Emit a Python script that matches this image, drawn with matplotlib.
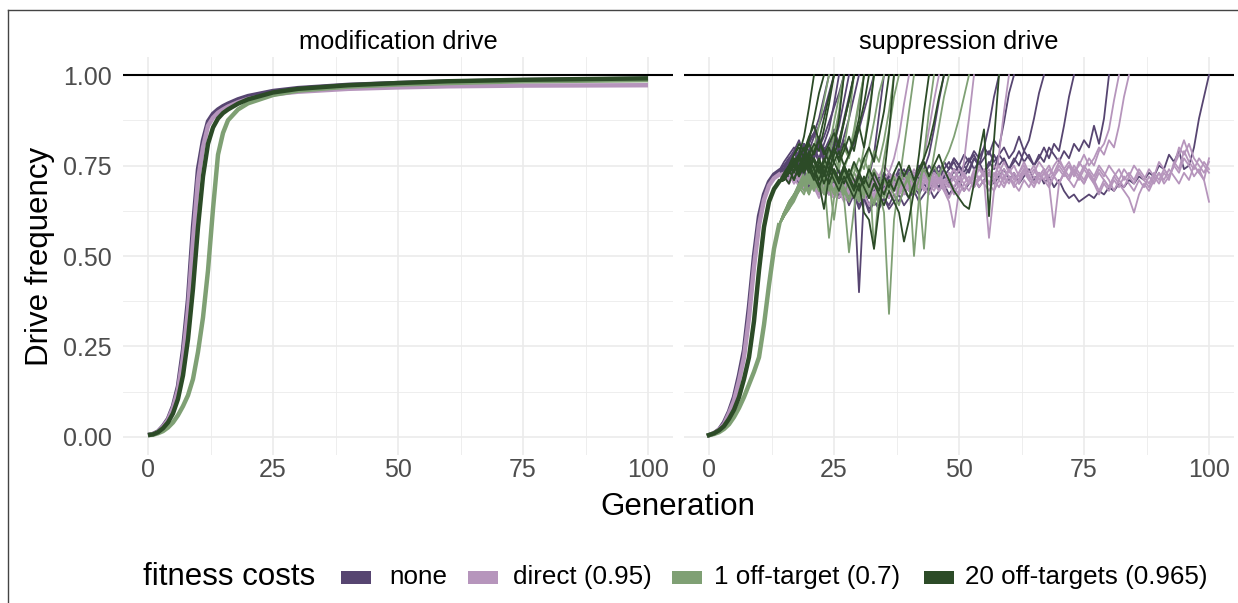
import numpy as np
import matplotlib
matplotlib.use('Agg')
import matplotlib.pyplot as plt
from matplotlib.lines import Line2D
from matplotlib.patches import Rectangle

plt.rcParams['font.family'] = ['Liberation Sans', 'DejaVu Sans']

# ---- data ----
groups = ['none', 'direct (0.95)', '1 off-target (0.7)', '20 off-targets (0.965)']
colours = ['#574571', '#B695BC', '#7FA074', '#2C4B27']
panel_titles = ['modification drive', 'suppression drive']
x_ticks = [0, 25, 50, 75, 100]
y_ticks = [0, 0.25, 0.5, 0.75, 1.0]

# modification drive: one mean curve per group
gen_mod = [0, 1, 2, 3, 4, 5, 6, 7, 8, 9, 10, 11, 12, 13, 14, 15, 16, 18, 20, 25, 30, 40, 50, 60, 75, 100]
mod_none = [.005, .008, .015, .03, .05, .085, .14, .24, .38, .58, .74, .82, .872, .893, .905, .914, .921, .933, .942, .956, .964, .973, .978, .982, .986, .99]
mod_direct = [.005, .008, .014, .028, .047, .08, .13, .22, .35, .54, .71, .80, .86, .882, .896, .905, .913, .925, .934, .947, .954, .962, .966, .969, .971, .972]
mod_off1 = [.005, .006, .010, .016, .026, .04, .06, .085, .115, .16, .235, .33, .46, .63, .78, .84, .875, .905, .922, .945, .957, .968, .974, .978, .983, .986]
mod_off20 = [.005, .007, .013, .024, .04, .065, .105, .17, .27, .41, .58, .72, .81, .855, .88, .895, .905, .921, .933, .952, .962, .972, .978, .983, .987, .991]

# suppression drive: shared rise (gen 0-14, percent), then replicate tails from gen 15
rise_none = [0.5, 1, 2, 4, 7, 11, 17, 24, 36, 50, 61, 67, 70.5, 72.5, 73.5]
rise_direct = [0.5, 1, 2, 3.5, 6.5, 10, 15.5, 22, 33, 47, 58.5, 65.5, 69.5, 71.5, 72.5]
rise_off1 = [0.5, 0.8, 1.3, 2.2, 3.5, 5.5, 8, 11, 14.5, 18, 22, 31, 42, 52, 58.5]
rise_off20 = [0.5, 1, 1.8, 3, 5, 7.5, 11, 16, 22, 32, 46, 58, 65, 68.5, 70.5]

tails_none = [
    [75, 77, 76, 79, 78, 82, 84, 88, 94, 100],
    [76, 78, 80, 77, 81, 79, 83, 86, 90, 95, 100],
    [74, 76, 73, 77, 79, 75, 80, 77, 81, 85, 92, 100],
    [75, 77, 79, 82, 78, 81, 84, 80, 83, 87, 91, 95, 100],
    [75, 73, 77, 74, 78, 75, 79, 76, 80, 77, 81, 86, 93, 100],
    [74, 77, 75, 78, 81, 77, 80, 83, 79, 82, 85, 81, 88, 94, 100],
    [74, 76, 79, 75, 78, 81, 77, 80, 76, 79, 82, 78, 83, 88, 94, 100],
    [75, 73, 76, 79, 76, 74, 78, 81, 77, 80, 83, 79, 82, 78, 81, 85, 90, 95, 100],
    [74, 72, 75, 71, 74, 70, 73, 69, 72, 68, 71, 67, 70, 66, 69, 40, 67, 72, 78, 89, 100],
    [73, 75, 72, 74, 70, 73, 71, 68, 72, 69, 71, 67, 70, 66, 69, 65, 68, 64, 67, 65,
     68, 66, 69, 67, 70, 68, 72, 70, 74, 78, 85, 93, 100],
    [74, 72, 73, 70, 72, 69, 71, 68, 70, 67, 69, 66, 68, 64, 67, 63, 66, 62, 65, 63,
     66, 64, 67, 65, 68, 66, 69, 67, 70, 68, 71, 69, 72, 70, 74, 71, 75, 73, 77, 75,
     80, 86, 94, 100],
    [73, 75, 71, 74, 77, 72, 75, 70, 73, 76, 71, 74, 69, 72, 70, 73, 68, 71, 69, 72,
     70, 73, 71, 74, 72, 70, 73, 71, 74, 72, 75, 73, 76, 74, 77, 75, 78, 76, 79, 77,
     80, 78, 82, 80, 87, 95, 100],
    [74, 76, 72, 75, 73, 70, 74, 71, 73, 69, 72, 70, 67, 70, 68, 71, 69, 66, 69, 71,
     68, 72, 70, 73, 71, 74, 72, 75, 73, 71, 74, 72, 76, 74, 77, 75, 73, 76, 78, 75,
     77, 79, 76, 78, 80, 77, 79, 83, 79, 82, 88, 95, 100],
    [73, 75, 72, 74, 71, 73, 70, 72, 68, 71, 69, 67, 70, 68, 66, 69, 67, 70, 68, 71,
     69, 72, 70, 68, 71, 73, 70, 72, 74, 71, 73, 75, 72, 74, 76, 73, 75, 77, 74, 76,
     73, 75, 78, 75, 77, 74, 76, 79, 76, 78, 75, 77, 80, 77, 81, 79, 86, 94, 100],
    [74, 72, 75, 73, 70, 73, 71, 69, 72, 70, 68, 71, 69, 67, 70, 68, 71, 69, 72, 70,
     73, 71, 69, 72, 74, 71, 73, 70, 72, 75, 73, 71, 74, 76, 73, 75, 72, 74, 77, 75,
     73, 76, 74, 78, 76, 74, 77, 75, 79, 77, 75, 78, 76, 80, 78, 76, 79, 77, 81, 79,
     82, 80, 86, 81, 88, 100],
    [74, 72, 73, 70, 72, 69, 71, 68, 70, 67, 69, 66, 68, 65, 67, 64, 66, 63, 65, 64,
     66, 63, 65, 67, 64, 66, 68, 65, 67, 69, 66, 68, 70, 67, 69, 71, 68, 70, 72, 69,
     71, 73, 70, 72, 74, 71, 73, 70, 72, 74, 71, 73, 70, 72, 69, 71, 68, 66, 67, 65,
     66, 67, 66, 68, 67, 69, 68, 70, 69, 71, 70, 72, 71, 73, 72, 75, 74, 78, 76, 79,
     74, 75, 80, 88, 94, 100],
]

tails_direct = [
    [72, 73, 71, 74, 70, 72, 69, 71, 68, 70, 67, 69, 71, 68, 70, 72, 69, 71, 74, 72,
     75, 73, 77, 83, 92, 100],
    [73, 71, 74, 72, 69, 72, 70, 67, 70, 68, 66, 69, 67, 65, 68, 66, 69, 67, 70, 68,
     71, 69, 72, 70, 73, 71, 74, 72, 77, 85, 93, 100],
    [72, 70, 73, 71, 68, 71, 69, 66, 69, 67, 70, 68, 65, 68, 66, 69, 67, 64, 67, 65,
     68, 66, 69, 67, 70, 68, 71, 69, 72, 70, 73, 71, 68, 65, 58, 68, 76, 88, 100],
    [71, 73, 70, 72, 69, 71, 68, 70, 67, 69, 66, 68, 70, 67, 69, 71, 68, 70, 66, 69,
     71, 68, 70, 72, 69, 71, 73, 70, 72, 69, 71, 73, 70, 72, 74, 71, 73, 70, 72, 69,
     71, 55, 68, 78, 90, 100],
    [72, 70, 73, 71, 69, 72, 70, 68, 71, 69, 67, 70, 68, 71, 69, 67, 70, 68, 66, 69,
     71, 68, 70, 72, 69, 71, 73, 70, 72, 69, 71, 68, 70, 73, 71, 69, 72, 70, 74, 71,
     73, 70, 72, 75, 72, 74, 71, 73, 76, 73, 75, 72, 74, 70, 58, 70, 73, 75, 72, 76,
     74, 77, 75, 79, 81, 85, 93, 100],
    [73, 71, 74, 72, 70, 73, 71, 69, 72, 70, 68, 71, 69, 72, 70, 68, 71, 69, 72, 70,
     68, 71, 73, 70, 72, 69, 71, 68, 70, 73, 70, 72, 69, 71, 74, 71, 73, 70, 72, 75,
     72, 74, 71, 73, 76, 73, 75, 72, 74, 71, 73, 76, 74, 72, 75, 77, 74, 76, 73, 75,
     78, 75, 77, 80, 78, 82, 80, 86, 94, 100],
    [72, 70, 73, 71, 68, 71, 69, 67, 70, 68, 66, 69, 67, 70, 68, 65, 68, 66, 69, 67,
     70, 68, 66, 69, 67, 70, 68, 71, 69, 67, 70, 68, 71, 69, 72, 70, 68, 71, 69, 72,
     70, 73, 71, 69, 72, 70, 73, 71, 74, 72, 70, 73, 71, 74, 72, 70, 73, 71, 69, 72,
     70, 73, 71, 68, 71, 69, 72, 70, 68, 66, 62, 67, 70, 68, 71, 73, 70, 72, 75, 73,
     77, 75, 72, 74, 71, 65],
    [73, 71, 74, 72, 70, 73, 71, 74, 72, 69, 72, 70, 67, 70, 68, 71, 69, 67, 70, 68,
     71, 69, 72, 70, 67, 70, 68, 71, 73, 70, 68, 71, 69, 66, 69, 67, 70, 72, 69, 71,
     73, 70, 68, 71, 69, 72, 70, 73, 75, 72, 74, 71, 73, 70, 72, 75, 73, 71, 74, 72,
     70, 73, 71, 74, 72, 75, 73, 71, 74, 72, 75, 73, 71, 74, 72, 76, 74, 72, 75, 80,
     78, 81, 77, 75, 73, 76],
    [71, 73, 70, 72, 69, 71, 73, 70, 68, 71, 69, 72, 70, 68, 71, 73, 70, 68, 71, 69,
     67, 70, 68, 71, 69, 72, 70, 68, 71, 69, 72, 70, 73, 71, 69, 72, 70, 68, 71, 74,
     72, 70, 73, 71, 74, 72, 70, 68, 71, 69, 72, 70, 73, 75, 72, 70, 73, 71, 74, 72,
     75, 73, 70, 67, 70, 68, 71, 69, 72, 70, 68, 71, 69, 72, 70, 73, 71, 74, 72, 70,
     73, 71, 75, 73, 71, 77],
    [72, 74, 71, 73, 70, 72, 69, 71, 74, 71, 69, 71, 68, 70, 73, 71, 68, 70, 72, 69,
     71, 73, 70, 68, 71, 69, 72, 70, 73, 71, 69, 72, 70, 73, 71, 74, 72, 70, 73, 71,
     74, 72, 75, 73, 71, 74, 72, 70, 73, 71, 69, 72, 74, 71, 73, 76, 74, 72, 75, 73,
     71, 74, 72, 75, 73, 71, 68, 71, 69, 72, 70, 73, 71, 69, 72, 70, 73, 71, 76, 74,
     79, 76, 74, 77, 75, 73],
    [73, 71, 72, 69, 71, 68, 70, 72, 69, 71, 68, 66, 69, 67, 70, 68, 66, 69, 67, 70,
     68, 71, 69, 67, 70, 72, 69, 71, 68, 70, 73, 71, 68, 70, 67, 70, 68, 71, 69, 72,
     70, 68, 71, 73, 70, 72, 69, 71, 74, 72, 70, 73, 71, 69, 72, 74, 72, 75, 73, 71,
     74, 72, 70, 73, 71, 69, 72, 74, 71, 73, 71, 74, 72, 70, 73, 71, 74, 72, 75, 78,
     82, 78, 75, 73, 76, 74],
]

tails_off1 = [
    [61, 64, 67, 70, 73, 76, 80, 86, 93, 100],
    [62, 65, 67, 69, 72, 70, 74, 71, 76, 80, 87, 94, 100],
    [61, 64, 67, 69, 72, 70, 74, 77, 73, 78, 83, 90, 100],
    [61, 64, 66, 69, 67, 71, 68, 72, 70, 74, 71, 76, 80, 88, 100],
    [62, 65, 67, 69, 71, 74, 71, 75, 72, 76, 73, 70, 74, 78, 85, 93, 100],
    [62, 65, 67, 70, 68, 72, 75, 71, 76, 73, 78, 74, 80, 77, 84, 92, 100],
    [62, 64, 66, 68, 70, 67, 71, 68, 72, 69, 73, 70, 66, 51, 63, 72, 80, 90, 100],
    [61, 63, 66, 68, 70, 72, 69, 73, 70, 74, 71, 68, 72, 69, 73, 77, 74, 80, 87, 95, 100],
    [61, 63, 66, 68, 70, 73, 69, 72, 68, 71, 60, 70, 74, 71, 75, 72, 77, 73, 79, 76,
     82, 90, 100],
    [61, 64, 66, 68, 70, 73, 70, 74, 71, 68, 72, 69, 73, 70, 67, 71, 66, 75, 52, 68,
     77, 85, 94, 100],
    [62, 64, 67, 69, 71, 68, 72, 69, 73, 70, 67, 71, 68, 65, 69, 66, 70, 67, 64, 68,
     62, 34, 60, 70, 80, 90, 100],
    [62, 64, 66, 69, 71, 68, 72, 70, 67, 71, 68, 72, 69, 66, 70, 67, 71, 68, 65, 69,
     66, 70, 67, 64, 69, 72, 50, 66, 78, 90, 100],
    [61, 63, 65, 68, 70, 72, 69, 73, 70, 74, 71, 68, 72, 69, 73, 70, 67, 71, 74, 70,
     67, 71, 68, 72, 69, 73, 70, 68, 52, 70, 78, 86, 94, 100],
    [61, 64, 66, 68, 70, 67, 71, 68, 72, 55, 66, 70, 67, 71, 68, 65, 69, 66, 70, 67,
     71, 68, 72, 69, 73, 70, 67, 71, 74, 71, 75, 72, 76, 79, 83, 88, 94, 100],
]

tails_off20 = [
    [72, 73, 75, 78, 83, 91, 100],
    [72, 74, 76, 73, 78, 82, 88, 95, 100],
    [71, 73, 75, 77, 74, 78, 81, 79, 85, 92, 100],
    [73, 75, 78, 81, 79, 83, 86, 82, 88, 94, 100],
    [72, 74, 76, 78, 75, 77, 74, 70, 63, 72, 80, 88, 100],
    [71, 73, 76, 78, 75, 79, 76, 73, 77, 74, 78, 82, 87, 93, 100],
    [72, 75, 73, 77, 80, 76, 79, 82, 78, 81, 84, 80, 87, 93, 100],
    [72, 74, 71, 75, 78, 74, 77, 73, 76, 80, 76, 79, 75, 78, 82, 88, 100],
    [71, 74, 77, 74, 78, 75, 72, 76, 73, 77, 80, 76, 79, 83, 79, 86, 92, 100],
    [72, 75, 78, 80, 77, 81, 78, 82, 79, 76, 80, 77, 81, 78, 82, 86, 80, 88, 100],
    [72, 70, 74, 77, 73, 76, 72, 69, 73, 70, 74, 71, 75, 72, 76, 73, 77, 80, 76, 83,
     90, 100],
    [71, 73, 75, 72, 76, 73, 77, 74, 70, 74, 71, 68, 72, 69, 66, 70, 62, 60, 52, 63,
     72, 84, 100],
    [72, 74, 76, 73, 77, 74, 71, 75, 72, 76, 73, 70, 74, 71, 68, 72, 69, 66, 70, 67,
     64, 68, 65, 62, 54, 60, 68, 78, 90, 100],
    [71, 73, 76, 72, 75, 78, 74, 77, 73, 70, 74, 71, 75, 72, 69, 73, 70, 74, 71, 68,
     72, 69, 73, 76, 72, 75, 71, 74, 77, 81, 87, 94, 100],
    [72, 74, 71, 75, 73, 77, 74, 71, 75, 72, 76, 73, 70, 74, 71, 68, 72, 69, 73, 70,
     67, 71, 68, 72, 69, 66, 70, 73, 76, 72, 75, 78, 74, 71, 68, 66, 64, 63, 70, 78,
     85, 61, 82, 100],
]

mod_curves = [mod_none, mod_direct, mod_off1, mod_off20]
sup_rise = [rise_none, rise_direct, rise_off1, rise_off20]
sup_tails = [tails_none, tails_direct, tails_off1, tails_off20]

# ---- figure ----
W, H = 1238, 603
fig = plt.figure(figsize=(W / 100, H / 100), dpi=100)
fig.patch.set_facecolor('white')

axes = []
for left in (123, 684):
    ax = fig.add_axes([left / W, 1 - 455 / H, 550 / W, 398 / H])
    axes.append(ax)

for i, ax in enumerate(axes):
    ax.set_xlim(-5, 105)
    ax.set_ylim(-0.05, 1.05)
    ax.set_xticks(x_ticks)
    ax.set_xticks([12.5, 37.5, 62.5, 87.5], minor=True)
    ax.set_yticks(y_ticks)
    ax.set_yticks([0.125, 0.375, 0.625, 0.875], minor=True)
    ax.set_xticklabels([str(t) for t in x_ticks])
    ax.set_yticklabels(['%.2f' % t for t in y_ticks])
    ax.grid(which='major', color='#EBEBEB', lw=1.2)
    ax.grid(which='minor', color='#EBEBEB', lw=0.6)
    ax.set_axisbelow(True)
    for s in ax.spines.values():
        s.set_visible(False)
    ax.tick_params(which='both', length=0, labelsize=18, labelcolor='#4D4D4D')
    ax.tick_params(axis='x', pad=2)
    ax.tick_params(axis='y', pad=8)
    if i == 1:
        ax.tick_params(axis='y', labelleft=False)
    ax.set_title(panel_titles[i], fontsize=18.3, pad=6)
    ax.axhline(1.0, color='black', lw=1.5, zorder=1)

# modification drive
ax = axes[0]
for k in (1, 0, 2, 3):
    ax.plot(gen_mod, mod_curves[k], color=colours[k], lw=3.2, solid_capstyle='butt', zorder=2 + k)

# suppression drive
ax = axes[1]
for k in (1, 0, 2, 3):
    rise = np.array(sup_rise[k]) / 100
    for tail in sup_tails[k]:
        y = np.concatenate([rise, np.array(tail) / 100])
        x = np.arange(len(y))
        ax.plot(x, y, color=colours[k], lw=1.3, zorder=2 + k)
    ax.plot(np.arange(len(rise)), rise, color=colours[k], lw=3.2, zorder=2 + k)

# axis titles
fig.text(678 / W, 1 - 507 / H, 'Generation', fontsize=22.5, ha='center', va='center')
fig.text(40 / W, 1 - 256 / H, 'Drive frequency', fontsize=22.5, rotation=90, ha='center', va='center')

# legend
ly = 1 - 577 / H
fig.text(143 / W, ly, 'fitness costs', fontsize=22.5, ha='left', va='center')
key_x = [340.5, 468, 672, 924]
label_x = [389, 513, 714, 965]
for k in range(4):
    fig.add_artist(Rectangle((key_x[k] / W, 1 - 583.5 / H), 30 / W, 12.6 / H,
                             transform=fig.transFigure, color=colours[k], lw=0))
    fig.text(label_x[k] / W, ly, groups[k], fontsize=18.7, ha='left', va='center')

# frame
fig.add_artist(Line2D([8 / W, 1], [1 - 10 / H, 1 - 10 / H], transform=fig.transFigure, color='#444444', lw=1))
fig.add_artist(Line2D([8 / W, 8 / W], [0, 1 - 10 / H], transform=fig.transFigure, color='#444444', lw=1))

fig.savefig('out.png', dpi=100)
